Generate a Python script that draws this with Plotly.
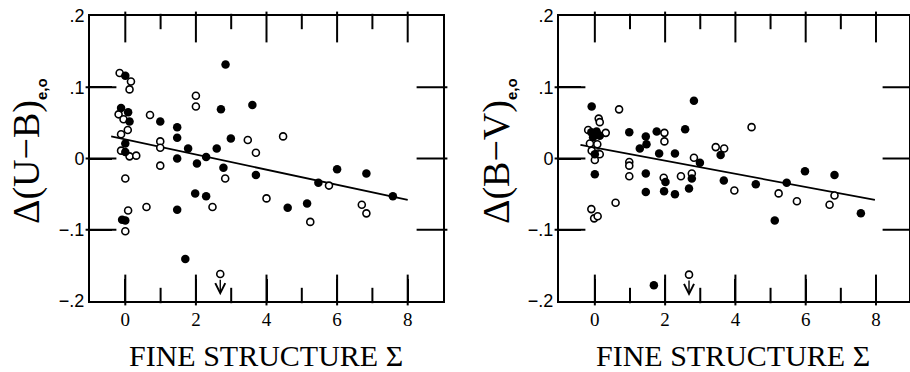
import plotly.graph_objects as go

# ---------------- data ----------------
# Left panel: Delta(U-B)_{e,o} vs fine structure Sigma
ub_filled_x = [0, 2.84, 2.71, 3.6, -0.12, 0.08, 0.12, 0.99, 1.47, 1.47, 2.99, 1.78, 2.59, 0, 0,
               1.47, 2.29, 2.03, 2.78, 3.7, 1.98, 2.29, 1.47, -0.09, 0, 1.7, 4.6, 5.15, 5.47,
               6.0, 6.83, 7.58]
ub_filled_y = [0.116, 0.132, 0.069, 0.075, 0.071, 0.065, 0.052, 0.052, 0.044, 0.029, 0.028,
               0.014, 0.014, 0.021, 0.009, 0.0, 0.002, -0.007, -0.013, -0.023, -0.049, -0.053,
               -0.072, -0.086, -0.087, -0.141, -0.069, -0.063, -0.034, -0.015, -0.021, -0.053]
ub_open_x = [-0.16, 0.16, 0.12, 2.0, 2.0, -0.19, -0.05, 0.7, 0.07, -0.12, 0.99, 3.47, 3.7, 4.47,
             0.99, -0.12, 0.12, 0.31, 0.99, 2.83, 0, 2.47, 4.0, 0.6, 0.08, 0, 5.24, 5.77, 6.7,
             6.83]
ub_open_y = [0.120, 0.108, 0.097, 0.088, 0.073, 0.062, 0.055, 0.061, 0.040, 0.034, 0.024, 0.026,
             0.008, 0.031, 0.015, 0.011, 0.003, 0.004, -0.010, -0.028, -0.028, -0.068, -0.056,
             -0.068, -0.073, -0.102, -0.089, -0.038, -0.065, -0.077]
ub_limit_x = [2.69]
ub_limit_y = [-0.162]
ub_fit_x = [-0.4, 8.0]
ub_fit_y = [0.031, -0.058]

# Right panel: Delta(B-V)_{e,o} vs fine structure Sigma
bv_filled_x = [-0.09, -0.1, 0.05, -0.05, 0.14, 0, 0.98, 1.45, 1.47, 1.28, 1.76, 1.83, 2.28, 2.57,
               2.82, 3.58, 0, 2.99, 1.45, 2.01, 2.76, 1.45, 1.97, 2.28, 2.68, 3.67, 1.68, 4.58,
               5.12, 5.46, 5.98, 6.82, 7.57]
bv_filled_y = [0.073, 0.037, 0.038, 0.030, 0.032, 0.006, 0.037, 0.031, 0.020, 0.014, 0.038,
               0.007, 0.007, 0.041, 0.081, 0.005, -0.022, -0.006, -0.021, -0.033, -0.028, -0.047,
               -0.046, -0.050, -0.042, -0.031, -0.178, -0.036, -0.087, -0.034, -0.018, -0.023,
               -0.077]
bv_open_x = [0.69, 0.11, 0.14, -0.19, 0.31, -0.14, 0.07, -0.09, 0.09, 1.98, 1.98, 3.44, 3.68,
             2.82, 4.46, 0, 0.14, 0.98, 0.98, 0.98, 1.96, 2.45, 2.76, 0.59, -0.1, -0.02, 0.08,
             3.97, 5.23, 5.75, 6.82, 6.68]
bv_open_y = [0.069, 0.056, 0.051, 0.040, 0.036, 0.021, 0.020, 0.011, 0.007, 0.036, 0.024, 0.016,
             0.014, 0.001, 0.044, -0.002, 0.006, -0.005, -0.010, -0.025, -0.027, -0.025, -0.021,
             -0.062, -0.071, -0.084, -0.081, -0.045, -0.049, -0.060, -0.052, -0.065]
bv_limit_x = [2.68]
bv_limit_y = [-0.163]
bv_fit_x = [-0.41, 7.97]
bv_fit_y = [0.019, -0.058]

x_tickvals = [0, 2, 4, 6, 8]
x_ticktext = ["0", "2", "4", "6", "8"]
x_minor_vals = [1, 3, 5, 7]
y_tickvals = [-0.2, -0.1, 0, 0.1, 0.2]
y_ticktext = ["\u2212.2", "\u2212.1", "0", ".1", ".2"]

x_title = "FINE STRUCTURE \u03a3"
SUB = "<sub><span style='font-family:Liberation Sans;font-size:15px'><b>e,o</b></span></sub>"
ub_title = "\u0394(U\u2212B)" + SUB
bv_title = "\u0394(B\u2212V)" + SUB

# ---------------- layout constants (style) ----------------
W, H = 910, 372
Y_RANGE = [-0.2, 0.2]
Y_DOM_PX = (16, 301)                       # top, bottom of plot frames in pixels
PANELS = [  # axis ids, x-domain in px, x range
    ("x", "y", (90, 443), [-1, 9]),
    ("x2", "y2", (559, 909), [-1.02, 8.94]),
]
MAJOR_LEN, MINOR_LEN, TICK_W = 22, 11, 2
ARROW_LEN = 0.030  # arrow length in data units

fig = go.Figure()


def tick_markers(xa, ya, xdom, xrng):
    """Inside tick marks drawn as line-shaped markers centred half a tick inside the frame."""
    py = (Y_RANGE[1] - Y_RANGE[0]) / (Y_DOM_PX[1] - Y_DOM_PX[0])   # data per pixel (y)
    px = (xrng[1] - xrng[0]) / (xdom[1] - xdom[0])                  # data per pixel (x)
    traces = []
    for vals, ln in [(x_tickvals, MAJOR_LEN), (x_minor_vals, MINOR_LEN)]:
        xs, ys = [], []
        for v in vals:
            xs += [v, v]
            ys += [Y_RANGE[0] + ln / 2 * py, Y_RANGE[1] - ln / 2 * py]
        traces.append(go.Scatter(x=xs, y=ys, mode="markers", xaxis=xa, yaxis=ya,
                                 hoverinfo="skip", cliponaxis=False,
                                 marker=dict(symbol="line-ns-open", size=ln, color="black",
                                             line=dict(color="black", width=TICK_W))))
    xs, ys = [], []
    for v in y_tickvals:
        if v in Y_RANGE:
            continue
        xs += [xrng[0] + MAJOR_LEN / 2 * px, xrng[1] - MAJOR_LEN / 2 * px]
        ys += [v, v]
    traces.append(go.Scatter(x=xs, y=ys, mode="markers", xaxis=xa, yaxis=ya,
                             hoverinfo="skip", cliponaxis=False,
                             marker=dict(symbol="line-ew-open", size=MAJOR_LEN, color="black",
                                         line=dict(color="black", width=TICK_W))))
    return traces


def add_panel(xa, ya, xdom, xrng, fx, fy, ox, oy, lx, ly, fitx, fity):
    fig.add_trace(go.Scatter(x=fitx, y=fity, mode="lines", xaxis=xa, yaxis=ya,
                             line=dict(color="black", width=1.8), hoverinfo="skip"))
    fig.add_trace(go.Scatter(x=ox + lx, y=oy + ly, mode="markers", xaxis=xa, yaxis=ya,
                             marker=dict(symbol="circle", size=7, color="white",
                                         line=dict(color="black", width=1.6))))
    fig.add_trace(go.Scatter(x=fx, y=fy, mode="markers", xaxis=xa, yaxis=ya,
                             marker=dict(symbol="circle", size=8.5, color="black",
                                         line=dict(width=0))))
    for tr in tick_markers(xa, ya, xdom, xrng):
        fig.add_trace(tr)
    for x0, y0 in zip(lx, ly):
        fig.add_annotation(x=x0, y=y0 - ARROW_LEN, ax=x0, ay=y0 - 0.006,
                           xref=xa, yref=ya, axref=xa, ayref=ya, text="",
                           showarrow=True, arrowhead=5, arrowsize=1.4, arrowwidth=1.4,
                           arrowcolor="black")


(xa1, ya1, xd1, xr1), (xa2, ya2, xd2, xr2) = PANELS
add_panel(xa1, ya1, xd1, xr1, ub_filled_x, ub_filled_y, ub_open_x, ub_open_y,
          ub_limit_x, ub_limit_y, ub_fit_x, ub_fit_y)
add_panel(xa2, ya2, xd2, xr2, bv_filled_x, bv_filled_y, bv_open_x, bv_open_y,
          bv_limit_x, bv_limit_y, bv_fit_x, bv_fit_y)

common = dict(showline=True, linecolor="black", linewidth=2, mirror=True, ticks="inside",
              ticklen=MAJOR_LEN, tickcolor="black", tickwidth=TICK_W, showgrid=False,
              zeroline=False, automargin=False)

ydom = [1 - Y_DOM_PX[1] / H, 1 - Y_DOM_PX[0] / H]


def xaxis(dom_px, rng, anchor):
    return dict(common, domain=[dom_px[0] / W, dom_px[1] / W], range=rng, anchor=anchor,
                tickmode="array", tickvals=x_tickvals, ticktext=x_ticktext,
                tickfont=dict(family="Liberation Serif", size=19, color="black"))


def yaxis(anchor):
    return dict(common, domain=ydom, range=Y_RANGE, anchor=anchor,
                tickmode="array", tickvals=y_tickvals, ticktext=y_ticktext,
                tickfont=dict(family="Liberation Sans", size=18, color="black"))


fig.update_layout(
    template="none",
    width=W, height=H, autosize=False,
    margin=dict(l=0, r=0, t=0, b=0, pad=0),
    paper_bgcolor="white", plot_bgcolor="white",
    showlegend=False,
    xaxis=xaxis(xd1, xr1, ya1),
    yaxis=yaxis(xa1),
    xaxis2=xaxis(xd2, xr2, ya2),
    yaxis2=yaxis(xa2),
)

for txt, xp in [(ub_title, 27), (bv_title, 497)]:
    fig.add_annotation(text=txt, x=xp / W, y=1 - 151 / H, xref="paper", yref="paper",
                       textangle=-90, showarrow=False, xanchor="center", yanchor="middle",
                       font=dict(family="Liberation Serif", size=38, color="black"))

for xp in [266, 733]:
    fig.add_annotation(text=x_title, x=xp / W, y=1 - 355 / H, xref="paper", yref="paper",
                       showarrow=False, xanchor="center", yanchor="middle",
                       font=dict(family="Liberation Serif", size=30, color="black"))

fig.write_html("out.html", config={"displayModeBar": False},
               post_script="document.body.style.margin='0px';")
